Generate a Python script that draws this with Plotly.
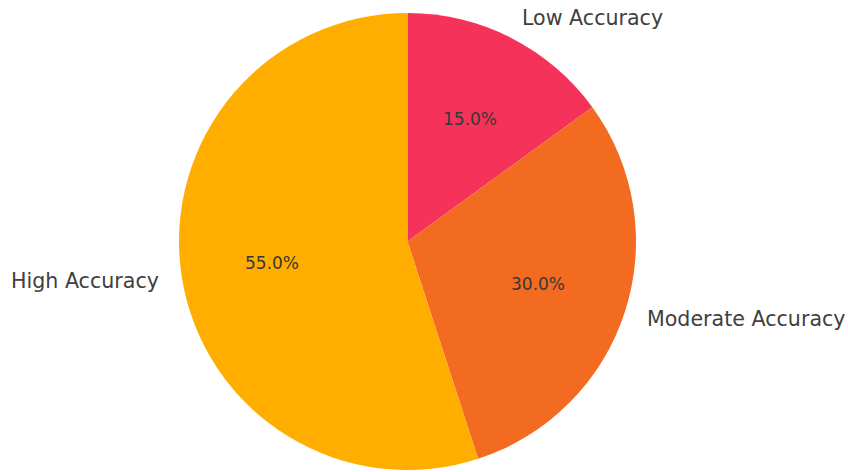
import math
import plotly.graph_objects as go

# Accuracy breakdown
categories = ["Low Accuracy", "Moderate Accuracy", "High Accuracy"]
shares = [15, 30, 55]
colors = ["#F5335A", "#F26B21", "#FFAE00"]

W, H = 848, 472
cx, cy, r = 407.5, 241.5, 228.5  # pie centre and radius in pixels

fig = go.Figure(go.Pie(
    labels=categories,
    values=shares,
    marker=dict(colors=colors, line=dict(width=0)),
    sort=False,
    direction="clockwise",
    rotation=0,
    textinfo="none",
    hoverinfo="label+percent",
    showlegend=False,
    domain=dict(x=[(cx - r) / W, (cx + r) / W], y=[(H - cy - r) / H, (H - cy + r) / H]),
))

# Category labels outside the rim and percentages inside each wedge
total = sum(shares)
start = 90.0
annotations = []
for name, v in zip(categories, shares):
    sweep = 360.0 * v / total
    mid = math.radians(start - sweep / 2)
    start -= sweep
    c, s = math.cos(mid), math.sin(mid)
    lx, ly = cx + 1.1 * r * c, cy - 1.1 * r * s
    annotations.append(dict(
        x=lx / W, y=1 - ly / H, xref="paper", yref="paper",
        text=name, showarrow=False, borderpad=0,
        xanchor="left" if c >= 0 else "right", yanchor="middle",
        xshift=-1 if c >= 0 else 1,
        font=dict(family="DejaVu Sans", size=20.6, color="#404040"),
    ))
    px, py = cx + 0.6 * r * c, cy - 0.6 * r * s
    annotations.append(dict(
        x=px / W, y=1 - py / H, xref="paper", yref="paper",
        text=f"{100 * v / total:.1f}%", showarrow=False,
        xanchor="center", yanchor="middle",
        font=dict(family="DejaVu Sans", size=17, color="#383838"),
    ))

fig.update_layout(
    width=W, height=H,
    margin=dict(l=0, r=0, t=0, b=0),
    paper_bgcolor="white", plot_bgcolor="white",
    annotations=annotations,
)

fig.write_html("out.html")
